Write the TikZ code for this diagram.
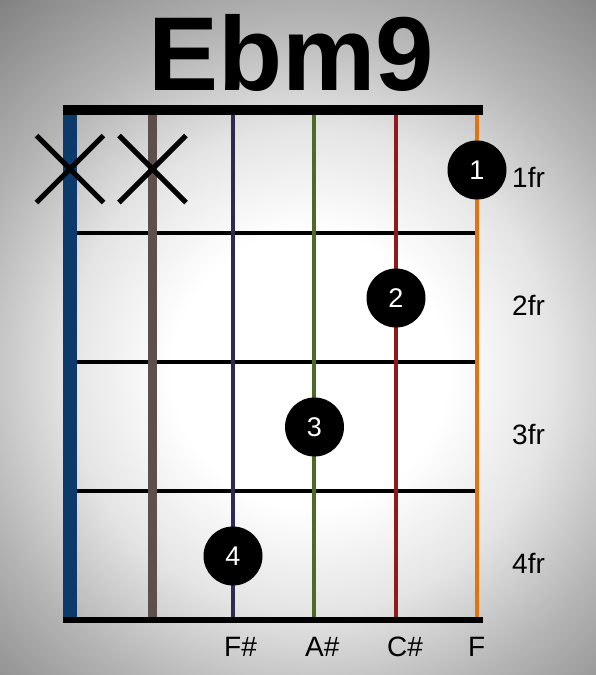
\documentclass[tikz,border=0pt]{standalone}
\usepackage{fontspec}
\setmainfont{Liberation Sans}
\usetikzlibrary{positioning, shapes.misc}
\definecolor{stringblue}{HTML}{0B3A6B}
\definecolor{stringbrown}{HTML}{5E4F4C}
\definecolor{stringnavy}{HTML}{2E2A55}
\definecolor{stringgreen}{HTML}{4D6B22}
\definecolor{stringred}{HTML}{8E1B1B}
\definecolor{stringorange}{HTML}{E07410}
\definecolor{viglight}{HTML}{E4E4E4}
\definecolor{vigmid}{HTML}{B4B4B4}
\definecolor{vigedge}{HTML}{7A7A7A}
\pgfdeclareradialshading{vignette}{\pgfpoint{0bp}{0bp}}{color(0bp)=(white); color(9bp)=(white); color(16bp)=(viglight); color(23bp)=(vigmid); color(33bp)=(vigedge); color(50bp)=(vigedge)}
\tikzset{
  fret/.style={line width=4.5pt, black},
  nut/.style={fill=black},
  gstring/.style={line width=#1},
  gstring/.default=4pt,
  finger/.style={
    circle, fill=black, text=white, inner sep=0pt,
    minimum size=59pt, font=\fontsize{27pt}{27pt}\selectfont
  },
  mute/.style={cross out, draw=black, line width=5pt, inner sep=0pt, minimum size=62pt},
  frlabel/.style={anchor=base west, inner sep=0pt, font=\fontsize{28pt}{28pt}\selectfont},
  notelabel/.style={anchor=base west, inner sep=0pt, font=\fontsize{28pt}{28pt}\selectfont},
}
\begin{document}
\begin{tikzpicture}[x=1pt, y=-1pt]
\useasboundingbox (0,0) rectangle (596,675);

% background
\begin{scope}
  \clip (0,0) rectangle (596,675);
  \shade[shading=vignette] (-70,-10) rectangle (690,750);
\end{scope}

% title
\node[anchor=base, inner sep=0pt, font=\fontsize{105pt}{105pt}\selectfont\bfseries] (title) at (291,90) {Ebm9};

% frets
\foreach \y in {233, 362, 491}
  \draw[fret] (70,\y) -- (477,\y);

% strings
\draw[gstring=14pt, stringblue] (70,110) -- (70,620);
\draw[gstring=9pt, stringbrown] (152.5,110) -- (152.5,620);
\draw[gstring, stringnavy] (233,110) -- (233,620);
\draw[gstring, stringgreen] (314,110) -- (314,620);
\draw[gstring, stringred] (396,110) -- (396,620);
\draw[gstring, stringorange] (477,110) -- (477,620);

% nut and bottom line
\fill[nut] (63,105) rectangle (483,115);
\fill[nut] (63,617) rectangle (483,623);

% muted strings
\node[mute] (m1) at (70,169) {};
\node[mute] (m2) at (152.5,169) {};

% fingers
\node[finger] (f1) at (477,170) {1};
\node[finger] (f2) at (396,298) {2};
\node[finger] (f3) at (314.5,427) {3};
\node[finger] (f4) at (233,556) {4};

% fret numbers
\node[frlabel] (fr1) at (512,187) {1fr};
\node[frlabel] (fr2) at (512,315) {2fr};
\node[frlabel] (fr3) at (512,444) {3fr};
\node[frlabel] (fr4) at (512,573) {4fr};

% notes
\node[notelabel] (n3) at (224,656) {F\#};
\node[notelabel] (n4) at (305,656) {A\#};
\node[notelabel] (n5) at (387,656) {C\#};
\node[notelabel] (n6) at (468,656) {F};

\end{tikzpicture}
\end{document}
